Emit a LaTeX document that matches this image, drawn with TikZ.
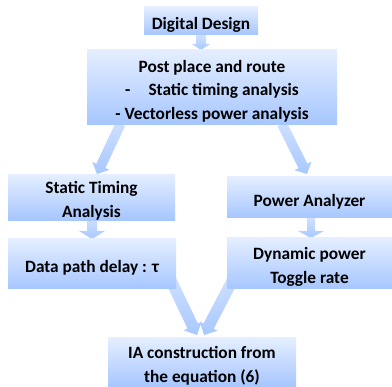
\documentclass[tikz,border=0pt]{standalone}
\usepackage{fontspec}
\setmainfont{Carlito}
\usetikzlibrary{calc}
\tikzset{
  flowbox/.style={top color=boxtop,bottom color=boxbot,inner sep=0pt,align=center,
    font=\fontsize{17.3}{23.5}\selectfont\bfseries,text=black},
}
\newcommand{\lowerline}{\rule{0pt}{19pt}}
\definecolor{boxtop}{HTML}{E4EEFF}
\definecolor{boxbot}{HTML}{A6C6FF}
\definecolor{arrtop}{HTML}{CFE0FF}
\definecolor{arrbot}{HTML}{A8C8FF}
% start, tip, shaft width, head width, head length
\newcommand{\blockarrow}[5]{%
  \coordinate (hb) at ($(#2)!#5pt!(#1)$);
  \shade[top color=arrtop,bottom color=arrbot]
    ($(#1)!#3pt/2!90:(#2)$) -- ($(hb)!#3pt/2!90:(#2)$) -- ($(hb)!#4pt/2!90:(#2)$) -- (#2)
    -- ($(hb)!#4pt/2!-90:(#2)$) -- ($(hb)!#3pt/2!-90:(#2)$) -- ($(#1)!#3pt/2!-90:(#2)$) -- cycle;
}
\begin{document}
\begin{tikzpicture}[x=1pt,y=-1pt]
\useasboundingbox (0,0) rectangle (392,387);
\coordinate (a1) at (201,35);   \coordinate (t1) at (201,50);
\coordinate (a2) at (120.5,124);\coordinate (t2) at (97,174);
\coordinate (a3) at (282,124);  \coordinate (t3) at (307,174);
\coordinate (a4) at (92,218);   \coordinate (t4) at (92,239);
\coordinate (a5) at (311,218);  \coordinate (t5) at (311,238);
\coordinate (a6) at (170.7,280);\coordinate (t6) at (197,335);
\coordinate (a7) at (232.7,280);\coordinate (t7) at (204,335);
\blockarrow{a1}{t1}{10}{18}{6}
\blockarrow{a2}{t2}{10}{19}{9}
\blockarrow{a3}{t3}{10}{19}{9}
\blockarrow{a4}{t4}{10}{26}{8}
\blockarrow{a5}{t5}{8}{26}{7}
\blockarrow{a6}{t6}{11.5}{20}{10}
\blockarrow{a7}{t7}{11.5}{20}{10}
\node[flowbox,minimum width=114pt,minimum height=28pt] (dd) at (201,21) {\rule{0pt}{20pt}Digital Design};
\node[flowbox,minimum width=250pt,minimum height=75pt] (pp) at (212,87.5)
  {\lowerline Post place and route\\-\hspace{18pt}Static timing analysis\\-\hspace{4pt}Vectorless power analysis};
\node[flowbox,minimum width=167pt,minimum height=41pt] (st) at (91.5,197.5) {\lowerline Static Timing\\Analysis};
\node[flowbox,minimum width=165pt,minimum height=41pt] (pa) at (309.5,197.5) {\rule{0pt}{20pt}Power Analyzer};
\node[flowbox,minimum width=168pt,minimum height=50pt] (dp) at (92,264) {\rule{0pt}{20pt}Data path delay : τ};
\node[flowbox,minimum width=165pt,minimum height=51pt] (dy) at (309.5,263.5) {\lowerline Dynamic power\\Toggle rate};
\node[flowbox,minimum width=188pt,minimum height=49pt] (ia) at (202,362.5) {\lowerline IA construction from\\the equation (6)};
\end{tikzpicture}
\end{document}
